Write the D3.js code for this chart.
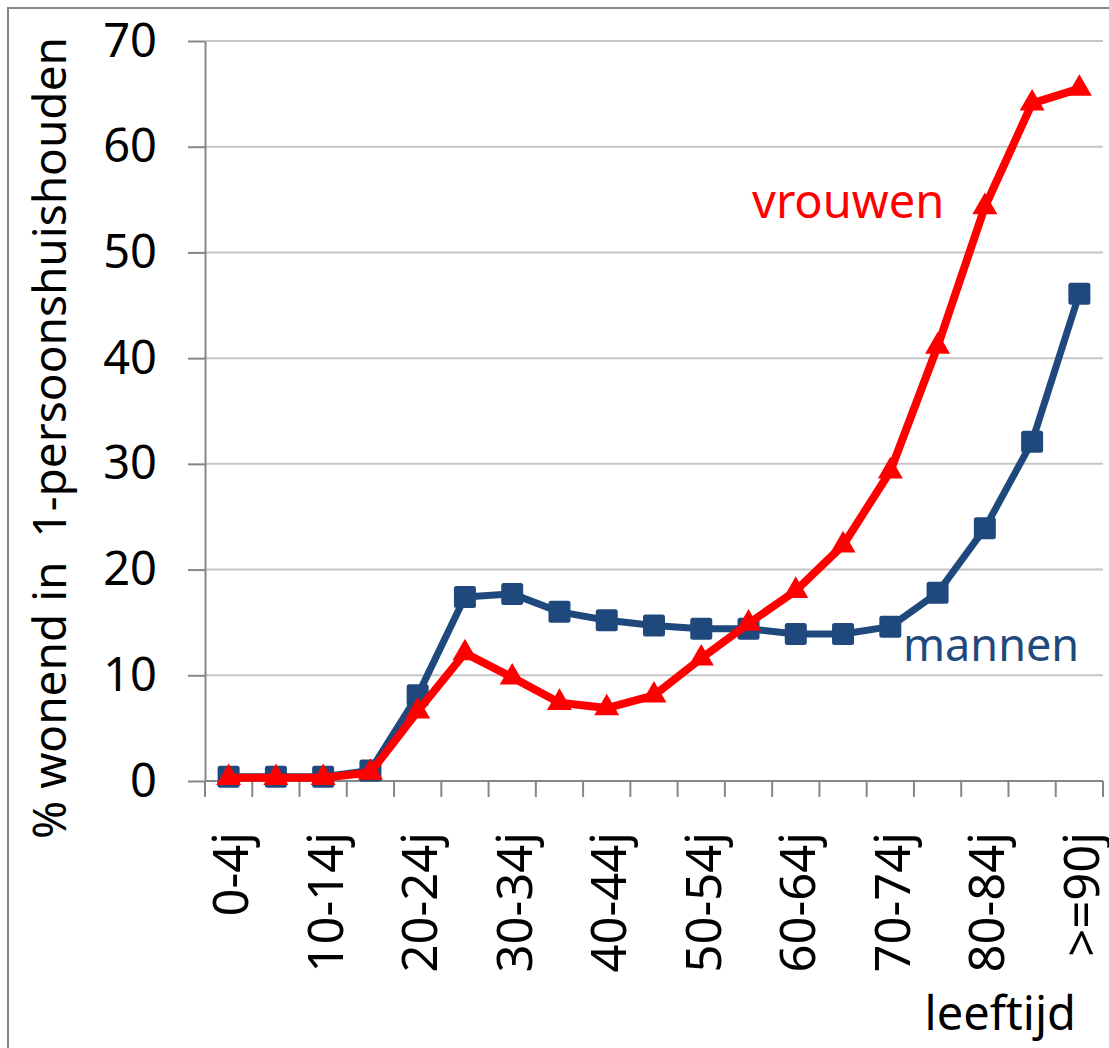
<!DOCTYPE html>
<html>
<head>
<meta charset="utf-8">
<script src="https://cdn.jsdelivr.net/npm/d3@7"></script>
<style>
  html, body { margin: 0; padding: 0; background: #fff; }
  svg { display: block; font-family: 'Noto Sans', sans-serif; }
</style>
</head>
<body>
<svg id="chart" width="1109" height="1048"></svg>
<script>
const categories = ['0-4j', '5-9j', '10-14j', '15-19j', '20-24j', '25-29j', '30-34j',
  '35-39j', '40-44j', '45-49j', '50-54j', '55-59j', '60-64j', '65-69j', '70-74j',
  '75-79j', '80-84j', '85-89j', '>=90j'];
const mannen  = [0.4, 0.4, 0.4, 1.0, 8.1, 17.4, 17.7, 16.0, 15.2, 14.7, 14.4, 14.4,
  13.9, 13.9, 14.6, 17.8, 23.9, 32.1, 46.1];
const vrouwen = [0.3, 0.3, 0.3, 0.8, 6.6, 12.1, 9.8, 7.4, 6.9, 8.1, 11.6, 14.9,
  18.0, 22.3, 29.3, 41.1, 54.3, 64.1, 65.5];
const yTicks = [0, 10, 20, 30, 40, 50, 60, 70];

const BLUE = '#1f497d';
const RED  = '#ff0000';
const AXIS = '#868686';
const GRID = '#c6c6c6';

const svg = d3.select('#chart');

// outer chart frame (runs off the right/bottom edge)
svg.append('rect')
  .attr('x', 8).attr('y', 8)
  .attr('width', 1300).attr('height', 1300)
  .attr('fill', 'none')
  .attr('stroke', AXIS)
  .attr('stroke-width', 2);

const x = d3.scaleBand()
  .domain(categories)
  .range([205, 1103]);

const y = d3.scaleLinear()
  .domain([0, 70])
  .range([781, 41]);

// gridlines
svg.append('g')
  .selectAll('line')
  .data(yTicks.filter(d => d > 0))
  .enter().append('line')
    .attr('x1', 205).attr('x2', 1103)
    .attr('y1', d => y(d)).attr('y2', d => y(d))
    .attr('stroke', GRID)
    .attr('stroke-width', 2);

// y axis
const yAxis = svg.append('g')
  .attr('transform', 'translate(205,0)')
  .call(d3.axisLeft(y).tickValues(yTicks).tickSize(17).tickPadding(31).tickSizeOuter(0));
yAxis.select('.domain').attr('stroke', AXIS).attr('stroke-width', 2);
yAxis.selectAll('.tick line').attr('stroke', AXIS).attr('stroke-width', 2);
yAxis.selectAll('.tick text')
  .attr('fill', '#000')
  .style('font-family', "'Noto Sans', sans-serif")
  .style('font-size', '47px');

// x axis: ticks on category boundaries
const xAxis = svg.append('g')
  .attr('transform', 'translate(0,781)');
xAxis.append('line')
  .attr('x1', 205).attr('x2', 1103)
  .attr('stroke', AXIS).attr('stroke-width', 2);
const bounds = categories.map(c => x(c)).concat([x(categories[categories.length - 1]) + x.bandwidth()]);
xAxis.selectAll('.xtick')
  .data(bounds)
  .enter().append('line')
    .attr('class', 'xtick')
    .attr('x1', d => d).attr('x2', d => d)
    .attr('y1', 0).attr('y2', 16)
    .attr('stroke', AXIS).attr('stroke-width', 2);

xAxis.selectAll('.xlabel')
  .data(categories.filter((c, i) => i % 2 === 0))
  .enter().append('text')
    .attr('class', 'xlabel')
    .attr('transform', d => `translate(${x(d) + x.bandwidth() / 2},51) rotate(-90)`)
    .attr('dy', '0.4em')
    .attr('text-anchor', 'end')
    .style('font-size', '49px')
    .text(d => d);

// axis titles
svg.append('text')
  .attr('transform', 'translate(66,438) rotate(-90)')
  .attr('text-anchor', 'middle')
  .style('font-size', '46px')
  .style('white-space', 'pre')
  .text('% wonend in  1-persoonshuishouden');

svg.append('text')
  .attr('x', 1076).attr('y', 1030)
  .attr('text-anchor', 'end')
  .style('font-size', '47px')
  .text('leeftijd');

// series
const cx = (d, i) => x(categories[i]) + x.bandwidth() / 2;
const line = d3.line()
  .x(cx)
  .y(d => y(d));

svg.append('path')
  .datum(mannen)
  .attr('d', line)
  .attr('fill', 'none')
  .attr('stroke', BLUE)
  .attr('stroke-width', 7)
  .attr('stroke-linejoin', 'round');

svg.append('g')
  .selectAll('rect')
  .data(mannen)
  .enter().append('rect')
    .attr('x', (d, i) => cx(d, i) - 11)
    .attr('y', d => y(d) - 11)
    .attr('width', 22).attr('height', 22)
    .attr('rx', 2.5)
    .attr('fill', BLUE);

svg.append('path')
  .datum(vrouwen)
  .attr('d', line)
  .attr('fill', 'none')
  .attr('stroke', RED)
  .attr('stroke-width', 8)
  .attr('stroke-linejoin', 'round');

const tri = d3.symbol().type(d3.symbolTriangle).size(270);
svg.append('g')
  .selectAll('path')
  .data(vrouwen)
  .enter().append('path')
    .attr('d', tri)
    .attr('transform', (d, i) => `translate(${cx(d, i)},${y(d)})`)
    .attr('fill', RED);

// series labels
svg.append('text')
  .attr('x', 752).attr('y', 218)
  .attr('fill', RED)
  .style('font-size', '47px')
  .text('vrouwen');

svg.append('text')
  .attr('x', 903).attr('y', 661)
  .attr('fill', BLUE)
  .style('font-size', '45px')
  .text('mannen');
</script>
</body>
</html>
